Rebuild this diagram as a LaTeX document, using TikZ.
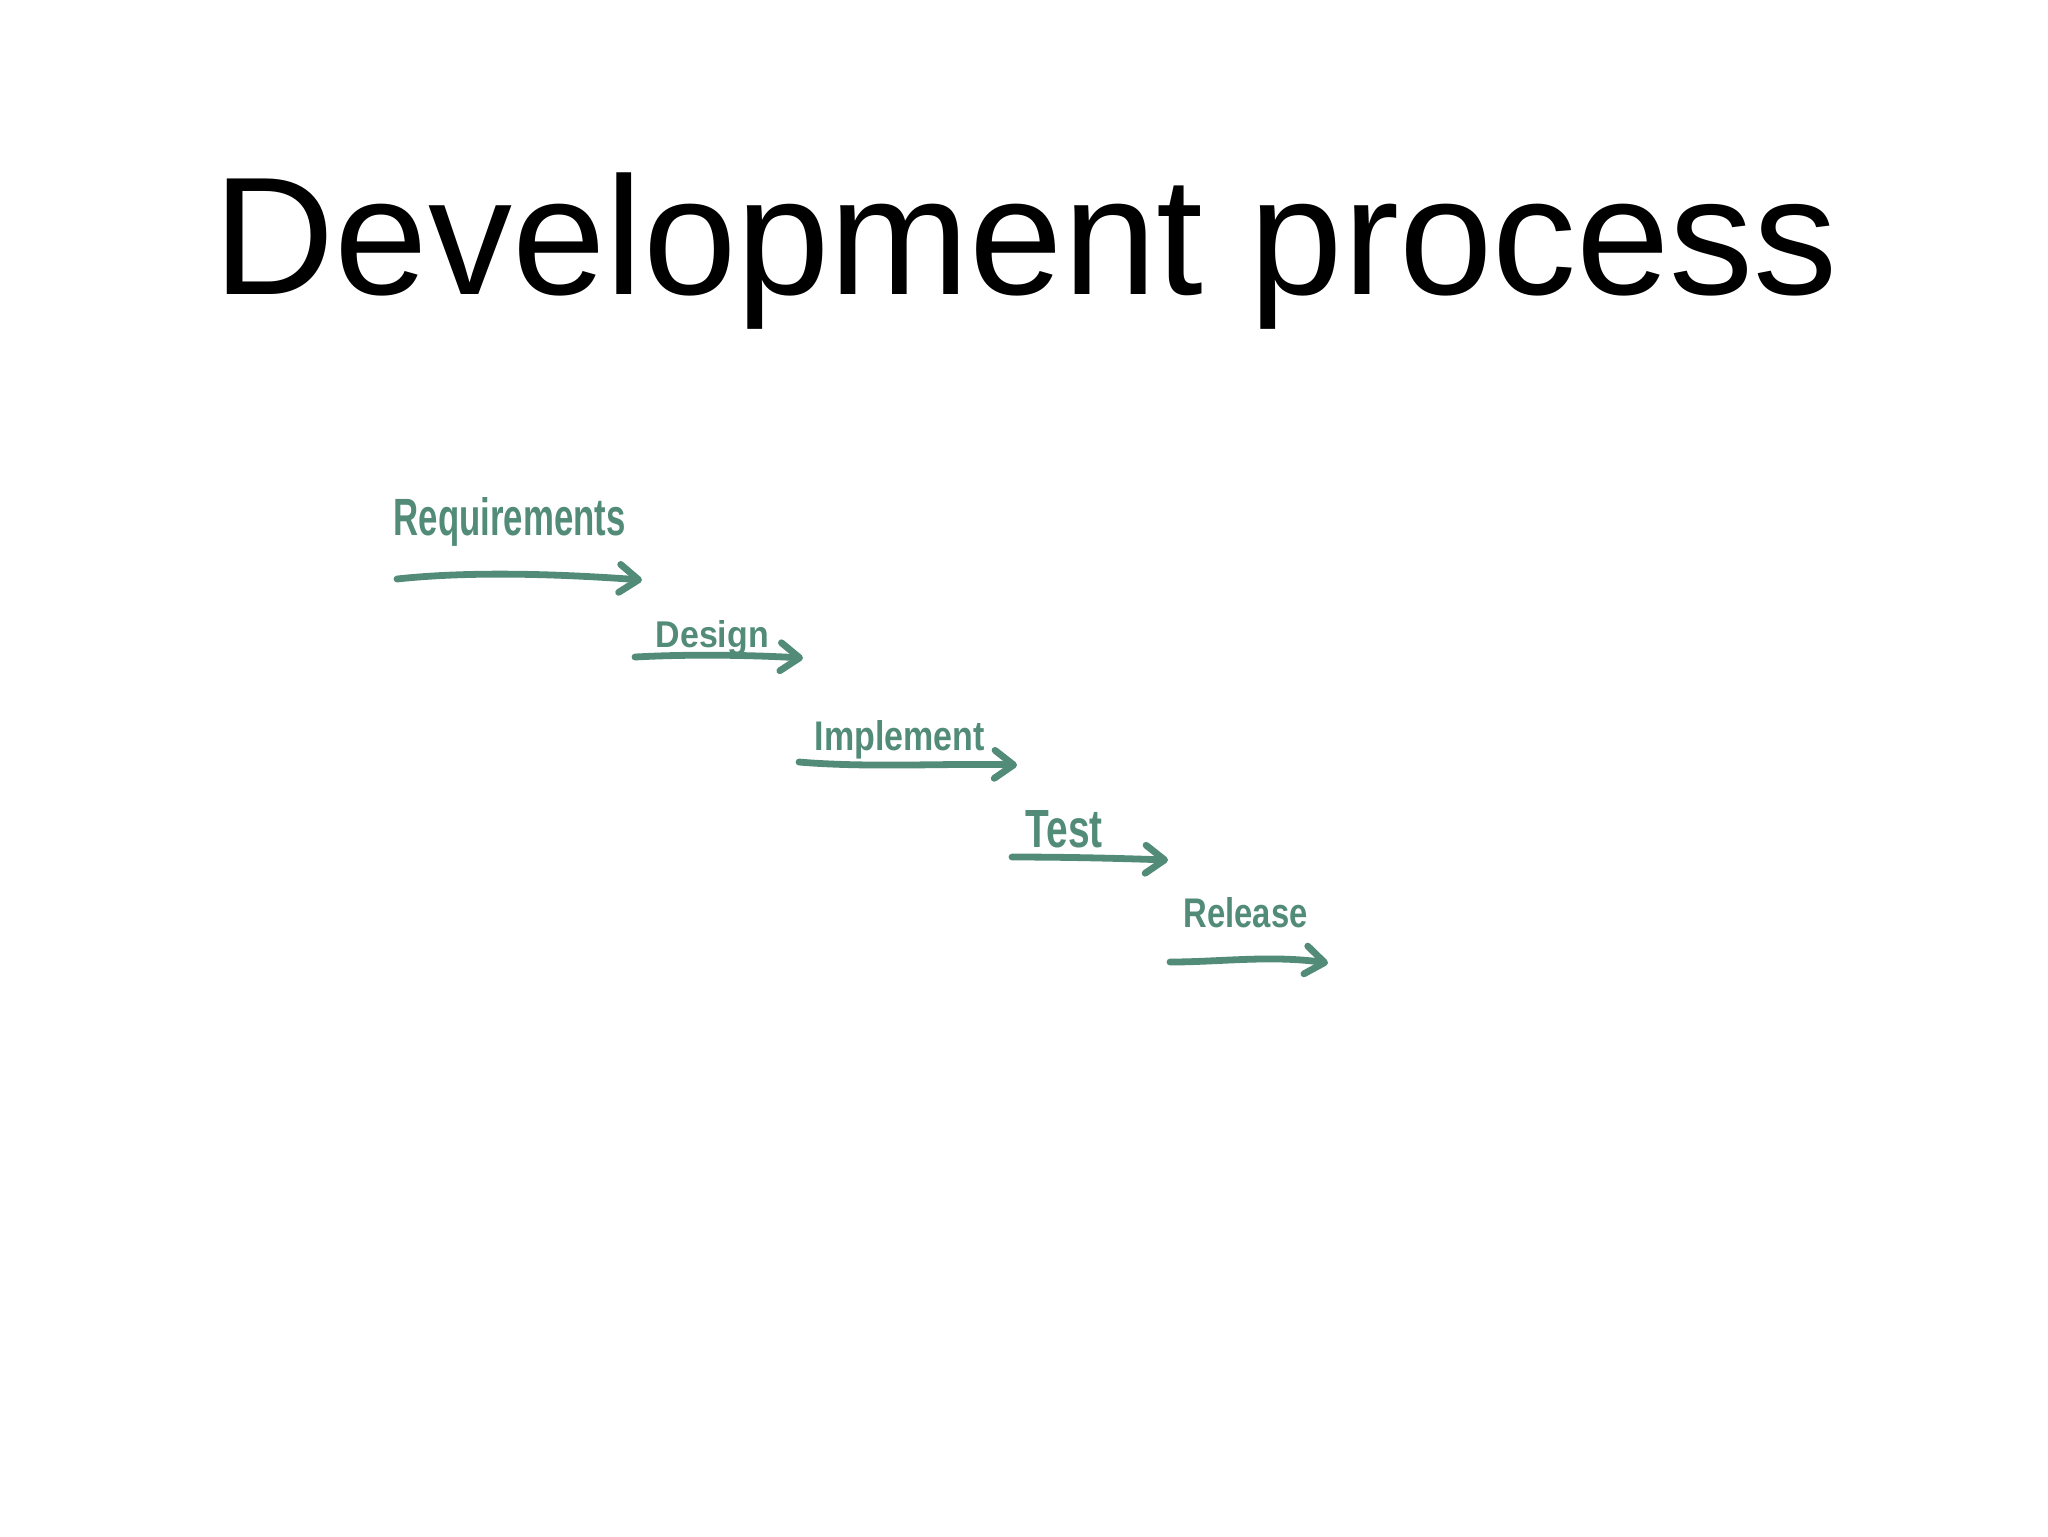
\documentclass[tikz,border=0pt]{standalone}
\usepackage{fontspec}
\setmainfont{Liberation Sans}
\usepackage{graphicx}
\usetikzlibrary{arrows.meta}
\definecolor{ink}{RGB}{82,140,121}
\newcommand{\handtext}[3]{\resizebox{#1}{#2}{\bfseries #3}}
\begin{document}
\begin{tikzpicture}[x=0.1mm,y=-0.1mm,
  hand/.style={anchor=base west, inner sep=0pt, text=ink},
  flow/.style={draw=ink, line width=0.68mm, line cap=round, line join=round,
    -{Straight Barb[length=1.9mm,width=2.8mm,line cap=round,line join=round]}}]
\useasboundingbox[fill=white] (0,0) rectangle (2048,1536);
\node[anchor=base, inner sep=0pt, font=\fontsize{47.8}{52}\selectfont] (title) at (1026,294) {Development process};

\node[hand] (req) at (393,535) {\handtext{23.2mm}{3.8mm}{Requirements}};
\node[hand] (des) at (655,647) {\handtext{11.3mm}{2.7mm}{Design}};
\node[hand] (imp) at (814,750) {\handtext{17.0mm}{3.0mm}{Implement}};
\node[hand] (tst) at (1025,847) {\handtext{7.7mm}{3.7mm}{Test}};
\node[hand] (rel) at (1183,927) {\handtext{12.4mm}{3.0mm}{Release}};

\coordinate (a1s) at (397,579); \coordinate (a1e) at (642,580);
\coordinate (a2s) at (635,657); \coordinate (a2e) at (803,658);
\coordinate (a3s) at (799,762); \coordinate (a3e) at (1017,765);
\coordinate (a4s) at (1012,857); \coordinate (a4e) at (1168,860);
\coordinate (a5s) at (1170,962); \coordinate (a5e) at (1328,963);

\draw[flow] (a1s) .. controls (470,571) and (560,574) .. (a1e);
\draw[flow] (a2s) .. controls (690,654) and (750,655) .. (a2e);
\draw[flow] (a3s) .. controls (870,768) and (950,763) .. (a3e);
\draw[flow] (a4s) .. controls (1060,857) and (1110,858) .. (a4e);
\draw[flow] (a5s) .. controls (1220,962) and (1270,955) .. (a5e);
\end{tikzpicture}
\end{document}
